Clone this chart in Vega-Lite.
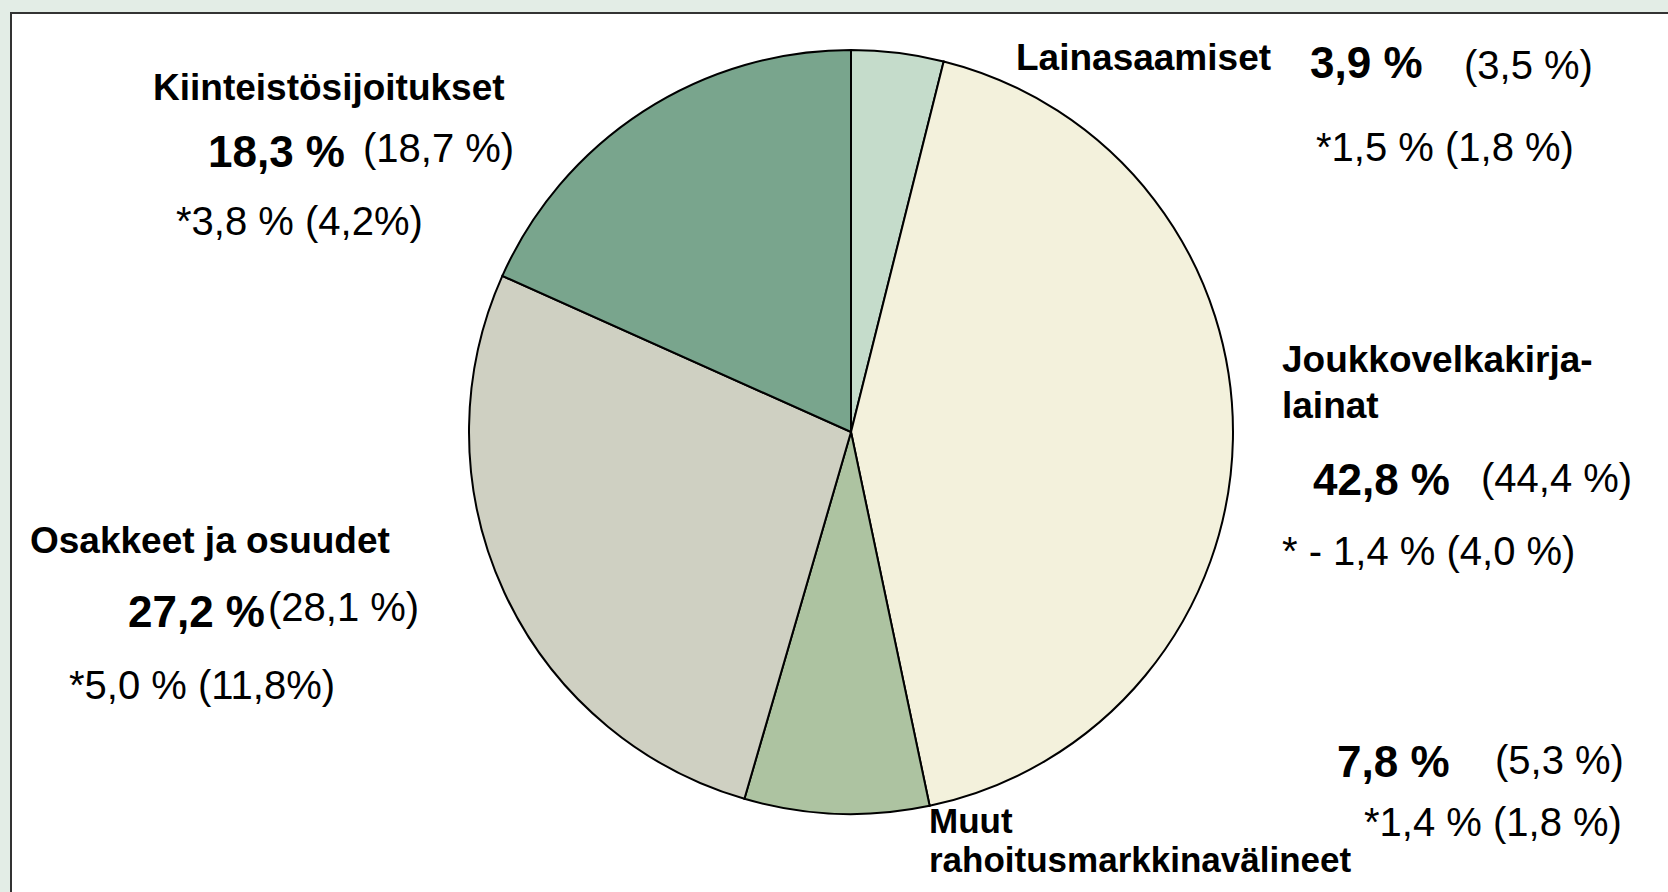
{
  "$schema": "https://vega.github.io/schema/vega-lite/v6.json",
  "width": 1668,
  "height": 892,
  "padding": 0,
  "autosize": {"type": "none"},
  "background": "#e3ede6",
  "config": {"view": {"stroke": null}, "font": "Liberation Sans"},
  "datasets": {
    "slices": [
      {"category": "Lainasaamiset", "share": 3.9, "ord": 1},
      {"category": "Joukkovelkakirjalainat", "share": 42.8, "ord": 2},
      {"category": "Muut rahoitusmarkkinavälineet", "share": 7.8, "ord": 3},
      {"category": "Osakkeet ja osuudet", "share": 27.2, "ord": 4},
      {"category": "Kiinteistösijoitukset", "share": 18.3, "ord": 5}
    ],
    "labels": [
      {"text": "Kiinteistösijoitukset", "lx": 153, "ly": 100, "kind": "label"},
      {"text": "Lainasaamiset", "lx": 1016, "ly": 70, "kind": "label"},
      {"text": "Joukkovelkakirja-", "lx": 1282, "ly": 372, "kind": "label"},
      {"text": "lainat", "lx": 1282, "ly": 418, "kind": "label"},
      {"text": "Osakkeet ja osuudet", "lx": 30, "ly": 553, "kind": "label"},
      {"text": "Muut", "lx": 929, "ly": 833, "kind": "small"},
      {"text": "rahoitusmarkkinavälineet", "lx": 929, "ly": 872, "kind": "small"},
      {"text": "18,3 %", "lx": 208, "ly": 167, "kind": "value"},
      {"text": "3,9 %", "lx": 1310, "ly": 78, "kind": "value"},
      {"text": "42,8 %", "lx": 1313, "ly": 495, "kind": "value"},
      {"text": "27,2 %", "lx": 128, "ly": 627, "kind": "value"},
      {"text": "7,8 %", "lx": 1337, "ly": 777, "kind": "value"},
      {"text": "(18,7 %)", "lx": 363, "ly": 162, "kind": "note"},
      {"text": "*3,8 % (4,2%)", "lx": 176, "ly": 235, "kind": "note"},
      {"text": "(3,5 %)", "lx": 1464, "ly": 79, "kind": "note"},
      {"text": "*1,5 % (1,8 %)", "lx": 1316, "ly": 161, "kind": "note"},
      {"text": "(44,4 %)", "lx": 1481, "ly": 492, "kind": "note"},
      {"text": "* - 1,4 % (4,0 %)", "lx": 1282, "ly": 565, "kind": "note"},
      {"text": "(28,1 %)", "lx": 268, "ly": 621, "kind": "note"},
      {"text": "*5,0 % (11,8%)", "lx": 69, "ly": 699, "kind": "note"},
      {"text": "(5,3 %)", "lx": 1495, "ly": 774, "kind": "note"},
      {"text": "*1,4 % (1,8 %)", "lx": 1364, "ly": 836, "kind": "note"}
    ]
  },
  "layer": [
    {
      "data": {"values": [{"x0": 11, "x1": 1700, "y0": 13, "y1": 920}]},
      "mark": {"type": "rect", "fill": "#ffffff", "stroke": "#333333", "strokeWidth": 2, "clip": true},
      "encoding": {
        "x": {"field": "x0", "type": "quantitative", "scale": {"domain": [0, 1668], "nice": false, "zero": false}, "axis": null},
        "x2": {"field": "x1"},
        "y": {"field": "y0", "type": "quantitative", "scale": {"domain": [0, 892], "nice": false, "zero": false, "reverse": true}, "axis": null},
        "y2": {"field": "y1"}
      }
    },
    {
      "data": {"name": "slices"},
      "mark": {"type": "arc", "outerRadius": 382, "stroke": "#000000", "strokeWidth": 2},
      "encoding": {
        "x": {"datum": 851, "type": "quantitative"},
        "y": {"datum": 432, "type": "quantitative"},
        "theta": {"field": "share", "type": "quantitative", "stack": true},
        "order": {"field": "ord", "type": "quantitative"},
        "color": {
          "field": "category",
          "type": "nominal",
          "legend": null,
          "scale": {
            "domain": ["Lainasaamiset", "Joukkovelkakirjalainat", "Muut rahoitusmarkkinavälineet", "Osakkeet ja osuudet", "Kiinteistösijoitukset"],
            "range": ["#c5dccb", "#f3f1dc", "#adc3a1", "#cfd0c2", "#79a58d"]
          }
        }
      }
    },
    {
      "data": {"name": "labels"},
      "transform": [{"filter": "datum.kind === 'label'"}],
      "mark": {"type": "text", "align": "left", "baseline": "alphabetic", "fontSize": 37, "fontWeight": "bold", "color": "#000000"},
      "encoding": {
        "x": {"field": "lx", "type": "quantitative"},
        "y": {"field": "ly", "type": "quantitative"},
        "text": {"field": "text"}
      }
    },
    {
      "data": {"name": "labels"},
      "transform": [{"filter": "datum.kind === 'small'"}],
      "mark": {"type": "text", "align": "left", "baseline": "alphabetic", "fontSize": 35, "fontWeight": "bold", "color": "#000000"},
      "encoding": {
        "x": {"field": "lx", "type": "quantitative"},
        "y": {"field": "ly", "type": "quantitative"},
        "text": {"field": "text"}
      }
    },
    {
      "data": {"name": "labels"},
      "transform": [{"filter": "datum.kind === 'value'"}],
      "mark": {"type": "text", "align": "left", "baseline": "alphabetic", "fontSize": 44, "fontWeight": "bold", "color": "#000000"},
      "encoding": {
        "x": {"field": "lx", "type": "quantitative"},
        "y": {"field": "ly", "type": "quantitative"},
        "text": {"field": "text"}
      }
    },
    {
      "data": {"name": "labels"},
      "transform": [{"filter": "datum.kind === 'note'"}],
      "mark": {"type": "text", "align": "left", "baseline": "alphabetic", "fontSize": 40, "fontWeight": "normal", "color": "#000000"},
      "encoding": {
        "x": {"field": "lx", "type": "quantitative"},
        "y": {"field": "ly", "type": "quantitative"},
        "text": {"field": "text"}
      }
    }
  ]
}
